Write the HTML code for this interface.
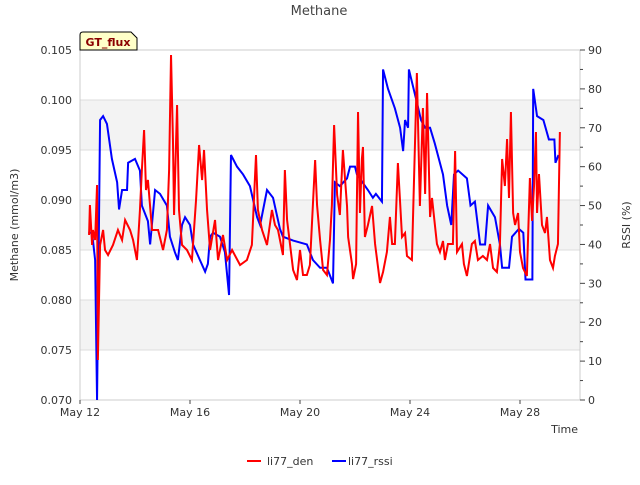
<!DOCTYPE html>
<html><head><meta charset="utf-8"><style>
body{margin:0;background:#fff;font-family:"Liberation Sans",sans-serif}
svg text{font-family:"DejaVu Sans","Liberation Sans",sans-serif}
</style></head><body>
<svg id="c" width="640" height="480" viewBox="0 0 640 480">
<text x="319" y="15" text-anchor="middle" font-size="13" fill="#444">Methane</text>
<g id="bands"></g><g id="grid"></g>
<rect x="80" y="50" width="500" height="350" fill="none" stroke="#ccc"/>
<g id="axes"></g>
<g id="series"></g>
<g>
<path d="M80,50 L80,35 Q80,32 83,32 L131,32 L137,38 L137,50 Z" fill="#ffffc8" stroke="#000" stroke-width="1"/>
<text x="108" y="46" text-anchor="middle" font-size="11" font-weight="bold" fill="#8b0000">GT_flux</text>
</g>
<text transform="translate(18,225) rotate(-90)" text-anchor="middle" font-size="11" fill="#333">Methane (mmol/m3)</text>
<text transform="translate(630,225) rotate(-90)" text-anchor="middle" font-size="11" fill="#333">RSSI (%)</text>
<text x="578" y="433" text-anchor="end" font-size="11" fill="#333">Time</text>
<g>
<g><line x1="247" y1="461" x2="261" y2="461" stroke="#f00" stroke-width="2"/><text x="267" y="465" font-size="11" fill="#333">li77_den</text></g>
<g><line x1="332" y1="461" x2="346" y2="461" stroke="#00f" stroke-width="2"/><text x="348" y="465" font-size="11" fill="#333">li77_rssi</text></g>
</g>
</svg>
<script>
const xTickLabels=["May 12","May 16","May 20","May 24","May 28"];
const xTickDays=[0,4,8,12,16];
const leftTicks=[0.070,0.075,0.080,0.085,0.090,0.095,0.100,0.105];
const rightTicks=[0,10,20,30,40,50,60,70,80,90];
const denDays=[0.33,0.36,0.44,0.47,0.55,0.62,0.65,0.73,0.84,0.91,1.02,1.2,1.38,1.53,1.64,1.82,1.93,2.07,2.18,2.25,2.33,2.4,2.47,2.62,2.84,3.02,3.16,3.24,3.31,3.38,3.42,3.53,3.6,3.71,3.89,4.07,4.22,4.33,4.44,4.51,4.62,4.73,4.91,5.02,5.2,5.35,5.53,5.82,6.07,6.25,6.4,6.47,6.62,6.8,6.98,7.09,7.2,7.38,7.45,7.53,7.64,7.75,7.89,8,8.11,8.25,8.36,8.55,8.62,8.73,8.84,8.98,9.09,9.16,9.24,9.35,9.45,9.56,9.71,9.75,9.89,9.93,10.04,10.11,10.18,10.25,10.29,10.36,10.47,10.62,10.73,10.91,11.02,11.16,11.27,11.35,11.45,11.56,11.71,11.82,11.89,12.07,12.11,12.25,12.36,12.47,12.55,12.62,12.73,12.8,12.98,13.09,13.2,13.27,13.38,13.56,13.64,13.71,13.89,13.96,14.07,14.25,14.36,14.47,14.65,14.8,14.91,15.02,15.16,15.27,15.35,15.45,15.53,15.6,15.67,15.75,15.82,15.93,16,16.11,16.25,16.36,16.44,16.51,16.58,16.62,16.69,16.8,16.91,16.98,17.09,17.2,17.27,17.38,17.45];
const denValues=[.0865,.0895,.0855,.087,.086,.0915,.074,.0855,.087,.085,.0845,.0855,.087,.086,.088,.087,.086,.084,.089,.093,.097,.091,.092,.087,.087,.085,.087,.093,.1045,.096,.0885,.0995,.089,.0855,.085,.084,.090,.0955,.092,.095,.089,.085,.088,.084,.0865,.084,.085,.0835,.084,.0855,.0945,.089,.087,.0855,.089,.0875,.087,.0845,.093,.088,.0855,.083,.082,.085,.0825,.0825,.0835,.094,.0895,.086,.083,.0825,.086,.0895,.0975,.0905,.0885,.095,.0894,.0863,.0836,.0821,.0836,.0988,.0887,.0941,.0953,.0863,.0875,.0894,.0856,.0817,.0828,.0848,.0883,.0856,.0856,.0937,.0863,.0867,.0844,.0840,.0883,.1027,.0894,.0992,.0906,.1007,.0883,.0902,.0856,.0848,.0859,.0840,.0856,.0856,.0949,.0848,.0856,.0836,.0824,.0856,.0859,.0840,.0844,.0840,.0856,.0832,.0828,.0856,.0941,.0914,.0961,.0902,.0988,.0887,.0875,.0887,.0848,.0832,.0824,.0922,.0879,.0914,.0968,.0887,.0926,.0875,.0867,.0883,.0840,.0832,.0844,.0856,.0968];
const rssiDays=[0.3,0.44,0.55,0.62,0.73,0.84,0.98,1.16,1.35,1.42,1.53,1.71,1.75,2.0,2.18,2.25,2.47,2.55,2.73,2.91,3.16,3.27,3.45,3.56,3.71,3.82,4.0,4.11,4.36,4.55,4.65,4.73,4.84,5.09,5.27,5.42,5.49,5.71,5.93,6.18,6.44,6.55,6.8,7.02,7.27,7.38,7.75,8.25,8.47,8.73,8.98,9.2,9.27,9.45,9.71,9.82,10.0,10.07,10.47,10.65,10.76,10.98,11.02,11.2,11.45,11.64,11.75,11.82,11.93,11.96,12.2,12.4,12.55,12.73,12.9,13.2,13.35,13.5,13.6,13.75,14.07,14.2,14.36,14.55,14.73,14.84,15.09,15.27,15.35,15.6,15.71,15.96,16.12,16.2,16.45,16.48,16.62,16.85,17.05,17.25,17.29,17.4];
const rssiValues=[43,43,36,0,72,73,71,62,56,49,54,54,61,62,59,50,46,40,54,53,50,42,38,36,45,47,45,40,36,33,35,42,43,42,38,27,63,60,58,55,47,45,54,52,44,42,41,40,36,34,34,30,56,55,57,60,60,58,54,52,53,51,85,80,75,70,64,72,70,85,78,72,70,70,66,58,50,45,58,59,57,50,51,40,40,50,47,40,34,34,42,44,43,31,31,80,73,72,67,67,61,63];

const NS="http://www.w3.org/2000/svg";
const X0=80,X1=580,Y0=400,Y1=50;
const xs=d=>X0+d*27.5;
const yl=v=>Y0-(v-0.070)/0.035*(Y0-Y1);
const yr=v=>Y0-v/90*(Y0-Y1);
function mk(tag,attrs,parent){const e=document.createElementNS(NS,tag);for(const k in attrs)e.setAttribute(k,attrs[k]);parent.appendChild(e);return e;}
const bands=document.getElementById('bands'),grid=document.getElementById('grid'),axes=document.getElementById('axes'),series=document.getElementById('series');
[[0.095,0.100],[0.085,0.090],[0.075,0.080]].forEach(b=>{
 const r=mk('rect',{x:X0,y:yl(b[1]),width:X1-X0,height:yl(b[0])-yl(b[1]),fill:'#f3f3f3'},bands);
 
 
});
leftTicks.forEach(v=>{
 const g=mk('line',{x1:X0,x2:X1,y1:yl(v),y2:yl(v),stroke:'#ddd'},grid);
 
 
 const t=mk('text',{x:72,y:yl(v)+4,'text-anchor':'end','font-size':11,fill:'#333'},axes);
 t.textContent=v.toFixed(3);
 
 
});
rightTicks.forEach(v=>{
 mk('line',{x1:X1,x2:X1+5,y1:yr(v),y2:yr(v),stroke:'#444'},axes);
 if(v<90)mk('line',{x1:X1,x2:X1+3,y1:yr(v+5),y2:yr(v+5),stroke:'#444'},axes);
 const t=mk('text',{x:588,y:yr(v)+4,'font-size':11,fill:'#333'},axes);
 t.textContent=v;
 
 
});
xTickDays.forEach((d,i)=>{
 mk('line',{x1:xs(d),x2:xs(d),y1:Y0,y2:Y0+4,stroke:'#444'},axes);
 const t=mk('text',{x:xs(d),y:416,'text-anchor':'middle','font-size':11,fill:'#333'},axes);
 t.textContent=xTickLabels[i];
 
 
});
const pb=mk('polyline',{points:rssiDays.map((d,i)=>xs(d)+','+yr(rssiValues[i])).join(' '),fill:'none',stroke:'#00f','stroke-width':2},series);


const pr=mk('polyline',{points:denDays.map((d,i)=>xs(d)+','+yl(denValues[i])).join(' '),fill:'none',stroke:'#f00','stroke-width':2},series);


</script>
</body></html>
